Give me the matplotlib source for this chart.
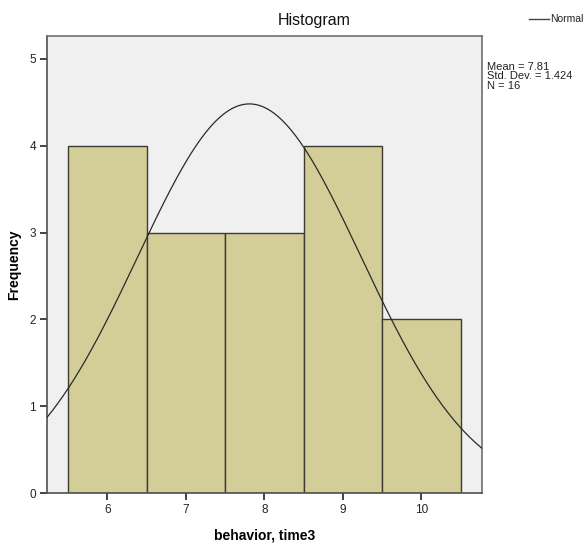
import numpy as np
import matplotlib
matplotlib.use("Agg")
import matplotlib.pyplot as plt

plt.rcParams['font.family'] = ['Liberation Sans', 'DejaVu Sans']

# histogram bins (behavior, time3)
bin_left = [5.5, 6.5, 7.5, 8.5, 9.5]
bin_width = 1.0
counts = [4, 3, 3, 4, 2]
mean = 7.81
std_dev = 1.424
n_obs = 16
x_ticks = [6, 7, 8, 9, 10]
y_ticks = [0, 1, 2, 3, 4, 5]

fig = plt.figure(figsize=(5.88, 5.45), dpi=100)
ax = fig.add_axes([0.0799, 0.0954, 0.7398, 0.8386])
ax.set_facecolor("#F0F0F0")

ax.bar(bin_left, counts, width=bin_width, align="edge",
       color="#D3CE98", edgecolor="#3C3C32", linewidth=1.0, zorder=2)

xs = np.linspace(5.232, 10.773, 400)
pdf = n_obs * bin_width / (std_dev * np.sqrt(2 * np.pi)) * np.exp(-0.5 * ((xs - mean) / std_dev) ** 2)
ax.plot(xs, pdf, color="#2A2A2A", linewidth=0.9, zorder=3)

ax.set_xlim(5.232, 10.773)
ax.set_ylim(0, 5.265)
ax.set_xticks(x_ticks)
ax.set_yticks(y_ticks)
ax.tick_params(direction="out", length=5, width=1.2, labelsize=8.5, color="#222222",
               labelcolor="#222222", pad=3)
for s in ax.spines.values():
    s.set_color("#707070")
    s.set_linewidth(1.2)
ax.spines["left"].set_color("#505050")
ax.spines["bottom"].set_color("#505050")

# SPSS centres the title over the whole chart, not the plot area
fig.text(0.534, 0.962, "Histogram", fontsize=11.5, ha="center", va="center", color="#111111")
ax.set_xlabel("behavior, time3", fontsize=10, fontweight="bold", labelpad=9)
ax.set_ylabel("Frequency", fontsize=10, fontweight="bold", labelpad=6)

# legend and statistics outside the plot
fig.add_artist(plt.Line2D([0.900, 0.933], [0.966, 0.966], color="#444444", linewidth=1.0))
fig.text(0.936, 0.966, "Normal", fontsize=7.5, va="center", ha="left", color="#222222")
fig.text(0.829, 0.886, f"Mean = {mean:.2f}\nStd. Dev. = {std_dev:.3f}\nN = {n_obs}",
         fontsize=8, va="top", ha="left", linespacing=0.92, color="#222222")

fig.savefig("out.png", dpi=100)
